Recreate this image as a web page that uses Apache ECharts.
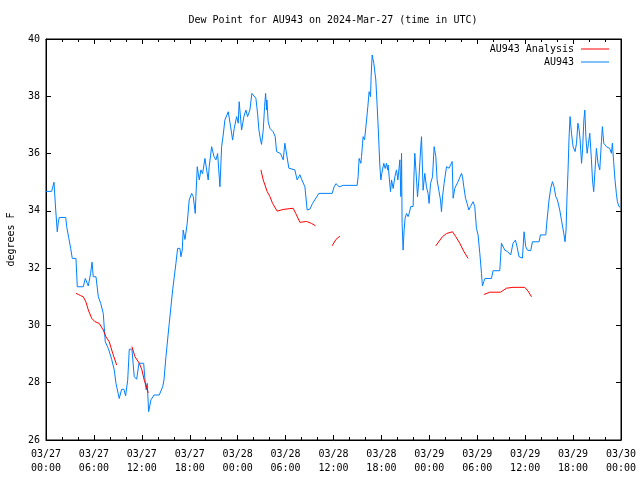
<!DOCTYPE html>
<html><head><meta charset="utf-8">
<script src="https://cdn.jsdelivr.net/npm/echarts@6/dist/echarts.min.js"></script>
<style>html,body{margin:0;padding:0;background:#fff}#c{width:640px;height:480px}</style>
</head><body><div id="c"></div>
<script>
// hours since 2024-03-27 00:00 UTC, dew point (F)
var observed = [
[0,34.68],[0.71,34.68],[1.0,35.0],[1.2,34.1],[1.41,33.27],[1.54,33.6],[1.66,33.77],[2.47,33.77],[2.59,33.45],[2.84,33.07],[3.09,32.69],[3.29,32.34],[3.75,32.34],[3.92,31.35],[4.67,31.35],[4.92,31.64],[5.29,31.38],[5.59,31.82],[5.76,32.21],[5.92,31.7],[6.26,31.7],[6.55,31.0],[6.85,30.77],[7.17,30.42],[7.42,29.43],[7.8,29.2],[8.22,28.82],[8.55,28.44],[8.76,27.98],[9.17,27.45],[9.47,27.77],[9.76,27.77],[9.97,27.54],[10.23,28.09],[10.43,29.17],[10.76,29.17],[11.05,28.21],[11.35,28.12],[11.64,28.68],[12.23,28.68],[12.43,27.98],[12.55,27.75],[12.68,27.98],[12.85,26.99],[13.14,27.4],[13.52,27.57],[14.18,27.57],[14.61,27.86],[14.77,28.09],[15.02,28.91],[15.43,30.07],[15.86,31.24],[16.27,32.17],[16.48,32.69],[16.77,32.69],[16.9,32.4],[17.06,32.63],[17.18,33.33],[17.4,33.0],[17.68,33.56],[17.93,34.38],[18.24,34.61],[18.44,34.5],[18.69,33.91],[18.77,34.5],[18.94,35.54],[19.19,35.08],[19.4,35.43],[19.61,35.3],[19.9,35.83],[20.31,35.08],[20.44,35.55],[20.74,36.24],[21.03,35.9],[21.28,35.78],[21.49,36.0],[21.78,34.84],[21.99,36.24],[22.19,36.65],[22.4,37.17],[22.82,37.46],[23.12,36.93],[23.37,36.47],[23.57,36.88],[23.87,37.29],[24.07,37.06],[24.19,37.81],[24.49,36.82],[24.78,37.29],[25.03,37.52],[25.24,37.29],[25.53,37.52],[25.78,38.1],[25.95,38.16],[26.28,37.93],[26.49,37.41],[26.66,36.82],[26.87,36.47],[26.99,36.32],[27.2,36.82],[27.37,37.64],[27.5,38.1],[27.62,37.52],[27.66,37.87],[27.82,37.11],[28.04,36.88],[28.45,36.76],[28.7,36.59],[28.87,36.07],[29.37,36.0],[29.7,35.78],[29.91,36.36],[30.12,36.42],[30.41,35.49],[31.16,35.43],[31.45,35.08],[31.79,35.26],[32.04,35.08],[32.42,34.84],[32.7,34.03],[33.04,34.06],[33.38,34.26],[34.17,34.61],[35.83,34.61],[36.08,34.84],[36.3,34.95],[36.71,34.84],[37.21,34.89],[38.96,34.89],[39.08,35.19],[39.21,35.83],[39.42,35.66],[39.51,35.9],[39.64,36.36],[39.71,36.59],[39.89,36.48],[40.14,37.17],[40.3,37.64],[40.46,38.16],[40.64,37.99],[40.71,38.68],[40.84,39.44],[41.05,39.15],[41.3,38.57],[41.46,37.7],[41.64,36.65],[41.8,35.6],[41.93,35.08],[42.05,35.31],[42.3,35.66],[42.47,35.48],[42.64,35.66],[42.77,35.43],[42.84,35.6],[42.97,35.19],[43.14,34.67],[43.27,35.08],[43.47,34.78],[43.68,35.19],[43.89,35.43],[44.06,35.08],[44.31,35.78],[44.43,34.5],[44.52,36.01],[44.59,33.56],[44.72,32.63],[44.84,33.33],[44.97,33.74],[45.14,33.91],[45.34,33.8],[45.47,33.91],[45.68,34.15],[45.97,34.15],[46.06,35.08],[46.18,36.01],[46.4,35.08],[46.52,34.49],[46.69,35.08],[46.9,36.12],[47.02,36.59],[47.22,34.72],[47.43,35.31],[47.64,34.84],[47.84,34.61],[47.97,34.26],[48.15,34.96],[48.4,35.19],[48.6,36.24],[48.81,35.9],[48.97,35.08],[49.22,34.67],[49.4,34.38],[49.52,33.97],[49.65,34.49],[49.85,34.96],[50.15,35.54],[50.47,35.49],[50.69,35.43],[50.86,35.72],[50.98,34.44],[51.19,34.79],[51.4,34.73],[51.6,35.02],[51.73,35.08],[52.03,35.31],[52.15,35.2],[52.32,34.84],[52.53,34.44],[52.73,34.26],[52.94,34.03],[53.15,34.15],[53.32,34.2],[53.48,34.32],[53.69,34.15],[53.9,33.39],[54.1,33.16],[54.32,32.52],[54.53,31.82],[54.65,31.38],[54.82,31.53],[54.98,31.64],[55.78,31.64],[55.98,31.91],[56.82,31.91],[57.03,32.87],[57.23,32.92],[57.45,32.63],[57.78,32.58],[57.98,32.63],[58.19,32.46],[58.48,32.87],[58.78,32.98],[58.98,32.75],[59.23,32.4],[59.66,32.35],[59.86,33.27],[60.07,32.75],[60.28,32.63],[60.7,32.61],[60.91,32.92],[61.74,32.92],[61.91,33.16],[62.58,33.16],[62.74,33.68],[62.99,34.38],[63.2,34.79],[63.42,35.02],[63.62,34.84],[63.83,34.5],[64.04,34.38],[64.33,34.03],[64.58,33.62],[64.83,33.22],[64.99,32.92],[65.12,33.33],[65.24,34.49],[65.37,35.43],[65.5,36.59],[65.62,37.29],[65.8,36.71],[66.0,36.24],[66.25,36.07],[66.43,36.36],[66.6,37.06],[66.76,36.82],[66.88,36.48],[67.06,35.66],[67.19,36.13],[67.35,37.17],[67.47,37.52],[67.6,36.59],[67.76,36.01],[67.93,36.36],[68.09,36.71],[68.3,35.78],[68.43,35.08],[68.58,34.67],[68.75,35.43],[68.92,36.18],[69.12,35.66],[69.34,35.43],[69.55,36.42],[69.67,36.94],[69.84,36.36],[70.18,36.24],[70.59,36.18],[70.8,36.01],[70.92,36.36],[71.08,35.72],[71.25,35.08],[71.42,34.61],[71.55,34.32],[71.75,34.15],[71.92,34.13]
];
var analysisSeg1 = [[3.75,31.12],[4.05,31.08],[4.34,31.04],[4.67,31.0],[5.0,30.82],[5.3,30.54],[5.72,30.25],[6.13,30.13],[6.67,30.07],[7.17,29.84],[7.51,29.6],[7.92,29.43],[8.35,29.03],[8.85,28.62]];
var analysisSeg2 = [[10.76,29.26],[11.14,28.91],[11.68,28.68],[12.01,28.45],[12.3,28.09],[12.52,27.92],[12.8,27.65]];
var analysisSeg3 = [[26.91,35.43],[27.2,35.08],[27.7,34.67],[28.04,34.5],[28.37,34.26],[28.95,33.99],[29.7,34.05],[30.95,34.09],[31.29,33.9],[31.79,33.6],[32.63,33.63],[33.25,33.56],[33.75,33.48]];
var analysisSeg4 = [[35.83,32.78],[36.3,33.0],[36.8,33.12]];
var analysisSeg5 = [[48.81,32.78],[49.65,33.1],[50.15,33.21],[50.9,33.27],[51.31,33.1],[51.81,32.87],[52.35,32.57],[52.85,32.34]];
var analysisSeg6 = [[54.82,31.08],[55.57,31.16],[56.91,31.16],[57.66,31.3],[58.49,31.33],[59.95,31.33],[60.36,31.2],[60.79,31.0]];
var yTicks = [26, 40, 2];
var xRange = [0, 72, 6];

var analysis = [];
[analysisSeg1, analysisSeg2, analysisSeg3, analysisSeg4, analysisSeg5, analysisSeg6].forEach(function (s, i) {
  if (i > 0) analysis.push([s[0][0] - 0.01, null]);
  s.forEach(function (p) { analysis.push(p); });
});

var FONT = 'DejaVu Sans Mono';
function xlab(v) {
  var day = 27 + Math.floor(v / 24);
  var hr = v % 24;
  return '03/' + day + '\n' + (hr < 10 ? '0' : '') + hr + ':00';
}
var chart = echarts.init(document.getElementById('c'), null, { renderer: 'canvas' });
var tickCommon = { show: true, inside: true, length: 5, lineStyle: { color: '#000', width: 1 } };
var legendCommon = { right: 31, itemWidth: 28, itemHeight: 1, itemGap: 0, padding: 0, align: 'right', icon: 'rect',
  textStyle: { fontFamily: FONT, fontSize: 10, color: '#000', padding: [0, 2, 0, 0] } };
chart.setOption({
  animation: false,
  backgroundColor: '#fff',
  textStyle: { fontFamily: FONT },
  graphic: [{
    type: 'text', x: 333, y: 20,
    style: { text: 'Dew Point for AU943 on 2024-Mar-27 (time in UTC)', fontFamily: FONT, fontSize: 10, fill: '#000', align: 'center', verticalAlign: 'middle' }
  }],
  grid: { left: 46, right: 19, top: 39, bottom: 40, containLabel: false, outerBoundsMode: 'none',
    show: true, borderColor: '#000', borderWidth: 1, backgroundColor: 'transparent' },
  legend: [
    Object.assign({ data: ['AU943 Analysis'], top: 44 }, legendCommon),
    Object.assign({ data: ['AU943'], top: 57 }, legendCommon)
  ],
  xAxis: [{
    type: 'value', min: xRange[0], max: xRange[1], interval: xRange[2], position: 'bottom',
    axisLine: { show: true, onZero: false, lineStyle: { color: '#000' } },
    axisTick: tickCommon,
    minorTick: { show: true, splitNumber: 3, length: 3, lineStyle: { color: '#000' } },
    splitLine: { show: false },
    axisLabel: { formatter: xlab, fontFamily: FONT, fontSize: 10, color: '#000', lineHeight: 14, margin: 7 }
  }, {
    type: 'value', min: xRange[0], max: xRange[1], interval: xRange[2], position: 'top',
    axisLine: { show: true, onZero: false, lineStyle: { color: '#000' } },
    axisTick: tickCommon,
    minorTick: { show: true, splitNumber: 3, length: 3, lineStyle: { color: '#000' } },
    splitLine: { show: false },
    axisLabel: { show: false }
  }],
  yAxis: [{
    type: 'value', min: yTicks[0], max: yTicks[1], interval: yTicks[2], position: 'left',
    name: 'degrees F', nameLocation: 'middle', nameGap: 30, nameRotate: 90,
    nameTextStyle: { fontFamily: FONT, fontSize: 10, color: '#000' },
    axisLine: { show: true, onZero: false, lineStyle: { color: '#000' } },
    axisTick: tickCommon,
    splitLine: { show: false },
    axisLabel: { fontFamily: FONT, fontSize: 10, color: '#000', margin: 6 }
  }, {
    type: 'value', min: yTicks[0], max: yTicks[1], interval: yTicks[2], position: 'right',
    axisLine: { show: true, onZero: false, lineStyle: { color: '#000' } },
    axisTick: tickCommon,
    splitLine: { show: false },
    axisLabel: { show: false }
  }],
  series: [{
    name: 'AU943 Analysis', type: 'line', data: analysis, showSymbol: false, symbol: 'none',
    connectNulls: false, lineStyle: { color: '#ff0000', width: 1 }, itemStyle: { color: '#ff0000' }, z: 3
  }, {
    name: 'AU943', type: 'line', data: observed, showSymbol: false, symbol: 'none',
    lineStyle: { color: '#0080ff', width: 1 }, itemStyle: { color: '#0080ff' }, z: 2
  }]
});
</script></body></html>
